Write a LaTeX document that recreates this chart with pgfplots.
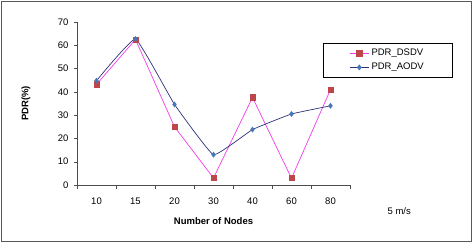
\documentclass[border=0pt]{standalone}
\usepackage{pgfplots}
\pgfplotsset{compat=1.18}
\usepackage{fontspec}
\setmainfont{Liberation Sans}
\definecolor{dsdvline}{RGB}{240,60,235}
\definecolor{dsdvmark}{RGB}{190,70,75}
\definecolor{aodvline}{RGB}{45,50,120}
\definecolor{aodvmark}{RGB}{70,120,185}
\begin{document}
\begin{tikzpicture}[x=1pt,y=1pt]
\useasboundingbox (0,0) rectangle (476,245);
\draw[gray!70!black, line width=0.8pt] (1,4) rectangle (471,244);
\begin{axis}[
  at={(77pt,60pt)}, anchor=south west,
  scale only axis, width=273pt, height=163pt,
  xmin=-0.5, xmax=6.5, ymin=0, ymax=70,
  axis lines=left, axis line style={-, gray!60!black},
  xtick={0,...,6}, xticklabels={10,15,20,30,40,60,80},
  minor xtick={-0.5,0.5,...,6.5},
  major x tick style={draw=none},
  minor tick length=4pt,
  ytick={0,10,...,70}, major tick length=3pt,
  tick align=outside, tick style={gray!60!black},
  tick label style={font=\fontsize{9.5}{10}\selectfont},
  xticklabel style={yshift=-6pt},
  yticklabel style={xshift=-2pt},
  /pgf/number format/assume math mode=true,
  xlabel={\textbf{Number of Nodes}}, ylabel={\textbf{PDR(\%)}},
  label style={font=\fontsize{9.5}{10}\selectfont},
  xlabel style={yshift=-6pt},
  ylabel style={at={(axis description cs:-0.187,0.5)}, anchor=center},
  legend style={at={(0.901,0.871)}, anchor=north west, draw=black,
    font=\fontsize{9.5}{10}\selectfont, inner xsep=26pt, inner ysep=4pt,
    row sep=2pt},
  legend image post style={xscale=1.15},
  legend cell align=left,
  clip=false,
]
\addplot[dsdvline, line width=0.7pt, mark=square*, mark size=2.6pt,
  mark options={fill=dsdvmark, draw=dsdvmark}]
  coordinates {(0,43.2) (1,62.5) (2,25) (3,3) (4,37.6) (5,2.9) (6,41)};
\addlegendentry{PDR\_DSDV}
\addplot[aodvline, line width=0.7pt, smooth, tension=0.18, mark=diamond*, mark size=2.4pt,
  mark options={fill=aodvmark, draw=aodvmark}]
  coordinates {(0,44.8) (1,62.7) (2,34.6) (3,13) (4,23.8) (5,30.5) (6,34)};
\addlegendentry{PDR\_AODV}
\node[font=\fontsize{9.5}{10}\selectfont, anchor=west] at (axis description cs:1.125,-0.16) {5 m/s};
\end{axis}
\end{tikzpicture}
\end{document}
